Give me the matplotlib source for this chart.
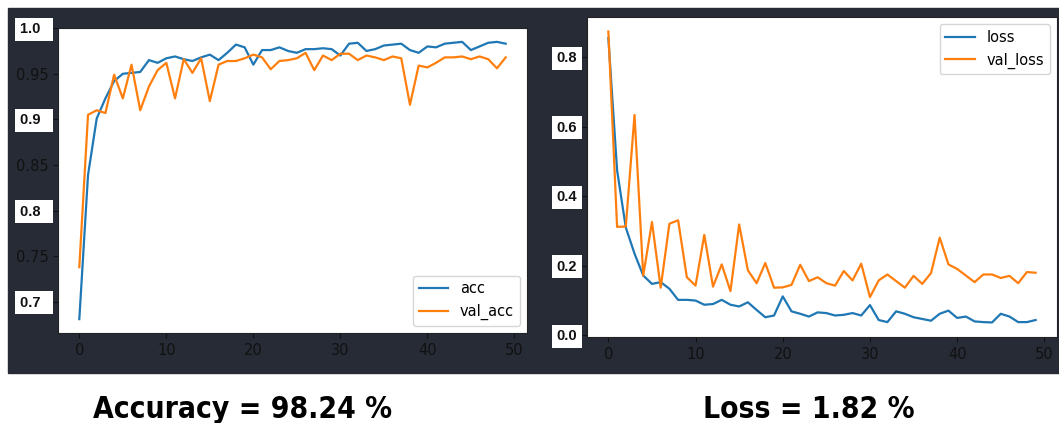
import matplotlib
matplotlib.use("Agg")
import matplotlib.pyplot as plt
import numpy as np

# %%
epochs = np.arange(50)

acc = [0.681, 0.839, 0.901, 0.923, 0.942, 0.950, 0.951, 0.952, 0.965, 0.962,
       0.967, 0.969, 0.966, 0.964, 0.968, 0.971, 0.965, 0.973, 0.982, 0.979,
       0.960, 0.976, 0.976, 0.979, 0.975, 0.973, 0.977, 0.977, 0.978, 0.977,
       0.970, 0.983, 0.984, 0.975, 0.977, 0.981, 0.982, 0.983, 0.976, 0.973,
       0.980, 0.979, 0.983, 0.984, 0.985, 0.976, 0.980, 0.984, 0.985, 0.983]
val_acc = [0.738, 0.905, 0.910, 0.907, 0.949, 0.923, 0.960, 0.910, 0.936, 0.954,
           0.962, 0.923, 0.966, 0.951, 0.967, 0.920, 0.960, 0.964, 0.964, 0.967,
           0.971, 0.968, 0.955, 0.964, 0.965, 0.967, 0.973, 0.954, 0.970, 0.965,
           0.972, 0.972, 0.965, 0.970, 0.968, 0.965, 0.969, 0.967, 0.916, 0.959,
           0.957, 0.962, 0.968, 0.968, 0.969, 0.966, 0.969, 0.966, 0.956, 0.968]

loss = [0.855, 0.475, 0.310, 0.235, 0.172, 0.148, 0.153, 0.134, 0.102, 0.102,
        0.100, 0.088, 0.090, 0.102, 0.088, 0.083, 0.095, 0.073, 0.052, 0.057,
        0.112, 0.069, 0.062, 0.054, 0.066, 0.064, 0.057, 0.059, 0.064, 0.057,
        0.087, 0.044, 0.038, 0.069, 0.062, 0.052, 0.047, 0.042, 0.062, 0.071,
        0.050, 0.054, 0.040, 0.038, 0.037, 0.062, 0.054, 0.038, 0.038, 0.044]
val_loss = [0.874, 0.312, 0.313, 0.634, 0.172, 0.326, 0.137, 0.321, 0.331, 0.167,
            0.143, 0.289, 0.140, 0.204, 0.127, 0.319, 0.187, 0.150, 0.208, 0.137,
            0.138, 0.145, 0.203, 0.156, 0.167, 0.150, 0.143, 0.185, 0.158, 0.206,
            0.110, 0.158, 0.175, 0.156, 0.137, 0.171, 0.148, 0.179, 0.281, 0.204,
            0.191, 0.172, 0.153, 0.175, 0.175, 0.165, 0.171, 0.150, 0.182, 0.180]

acc_ticks = [0.7, 0.75, 0.8, 0.85, 0.9, 0.95, 1.0]
acc_tick_labels = ["0.7", "0.75", "0.8", "0.85", "0.9", "0.95", "1.0"]
acc_boxed = ["0.7", "0.8", "0.9", "1.0"]
loss_ticks = [0.0, 0.2, 0.4, 0.6, 0.8]
loss_tick_labels = ["0.0", "0.2", "0.4", "0.6", "0.8"]
loss_boxed = ["0.0", "0.2", "0.4", "0.6", "0.8"]

captions = ["Accuracy = 98.24 %", "Loss = 1.82 %"]

# %%
dark = "#272b36"
txt = "#111111"

fig = plt.figure(figsize=(10.59, 4.23), dpi=100)
fig.patch.set_facecolor("white")
bg = plt.Rectangle((8 / 1059, 1 - 373 / 423), 1, 365 / 423,
                   transform=fig.transFigure, color=dark, zorder=-10)
fig.add_artist(bg)

ax1 = fig.add_axes([58 / 1059, 1 - 333 / 423, 469 / 1059, 305 / 423])
ax2 = fig.add_axes([587 / 1059, 1 - 337 / 423, 470 / 1059, 320 / 423])


def style(ax, ticks, labels, boxed, xoff, wide):
    ax.set_yticks(ticks)
    ax.set_yticklabels([("" if l in boxed else l) for l in labels])
    ax.set_xticks([0, 10, 20, 30, 40, 50])
    ax.tick_params(colors=txt, labelcolor=txt, labelsize=10.5)
    for s in ax.spines.values():
        s.set_color("#222222")
    for t, l in zip(ticks, labels):
        if l in boxed:
            ax.annotate(l + wide, xy=(0, t), xycoords=ax.get_yaxis_transform(),
                        xytext=(xoff, -1), textcoords="offset pixels",
                        ha="center", va="center", fontsize=10.5,
                        fontweight="bold", family=["Liberation Sans", "DejaVu Sans"],
                        color="#111111", annotation_clip=False,
                        bbox=dict(boxstyle="square,pad=0.3", fc="white", ec="none"))


ax1.plot(epochs, acc, lw=1.6, label="acc")
ax1.plot(epochs, val_acc, lw=1.6, label="val_acc")
ax1.legend(loc="lower right", fontsize=10.5)
style(ax1, acc_ticks, acc_tick_labels, acc_boxed, -24, "  ")

ax2.plot(epochs, loss, lw=1.6, label="loss")
ax2.plot(epochs, val_loss, lw=1.6, label="val_loss")
ax2.legend(loc="upper right", fontsize=10.5)
style(ax2, loss_ticks, loss_tick_labels, loss_boxed, -20, "")

for cx, cap in zip([243, 809], captions):
    fig.text(cx / 1059, 1 - 409 / 423, cap, ha="center", va="center",
             fontsize=21.5, fontweight="bold", fontstretch="condensed",
             family=["DejaVu Sans"])

fig.savefig("out.png", dpi=100)
